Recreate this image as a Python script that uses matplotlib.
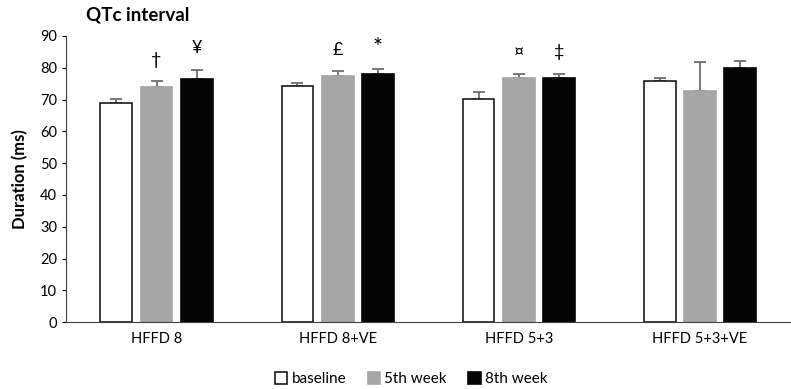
import numpy as np
import matplotlib.pyplot as plt

plt.rcParams['font.family'] = ['Lato', 'DejaVu Sans']

groups = ["HFFD 8", "HFFD 8+VE", "HFFD 5+3", "HFFD 5+3+VE"]
series = ["baseline", "5th week", "8th week"]
means = [
    [68.9, 74.3, 70.3, 75.7],
    [74.0, 77.5, 76.9, 72.7],
    [76.6, 78.1, 76.9, 80.0],
]
errs = [
    [1.3, 0.8, 2.0, 1.1],
    [1.8, 1.4, 1.2, 9.2],
    [2.7, 1.4, 1.2, 2.2],
]
marks = [
    ["", "", "", ""],
    ["†", "£", "¤", ""],
    ["¥", "*", "‡", ""],
]

face = ["white", "#a6a6a6", "#050505"]
edge = ["#1a1a1a", "#a6a6a6", "#050505"]

fig = plt.figure(figsize=(7.91, 3.89), dpi=100)
ax = fig.add_axes([0.0834, 0.172, 0.916, 0.7355])

x = np.arange(len(groups))
w = 0.175
step = 0.222
for i in range(3):
    xs = x + (i - 1) * step
    ax.bar(xs, means[i], width=w, color=face[i], edgecolor=edge[i], linewidth=1.2,
           label=series[i], zorder=2)
    ax.errorbar(xs, means[i], yerr=[np.zeros(4), errs[i]], fmt="none",
                ecolor="#6e6e6e", elinewidth=1.3, capsize=4, capthick=1.3, zorder=1)
    for j in range(4):
        m = marks[i][j]
        if m:
            ax.text(xs[j], means[i][j] + errs[i][j] + 6.8, m, ha="center",
                    va="center", fontsize=17 if m == "*" else 13)

ax.set_xlim(-0.5, 3.5)
ax.set_ylim(0, 90)
ax.set_yticks(range(0, 91, 10))
ax.set_xticks(x)
ax.set_xticklabels(groups, fontsize=10.5)
ax.tick_params(axis="y", labelsize=10.5, length=3)
ax.tick_params(axis="x", length=0, pad=7)
for s in ["top", "right"]:
    ax.spines[s].set_visible(False)
ax.spines["left"].set_color("#404040")
ax.spines["bottom"].set_color("#404040")
ax.set_ylabel("Duration (ms)", fontsize=12, fontweight="bold", labelpad=8)
fig.text(0.109, 0.962, "QTc interval", fontsize=13.5, fontweight="bold", va="center")

fig.legend(loc="center", bbox_to_anchor=(0.52, 0.025), ncol=3, frameon=False,
           fontsize=11, handlelength=0.8, handleheight=0.8, handletextpad=0.3,
           columnspacing=1.4)

fig.savefig("out.png", dpi=100)
